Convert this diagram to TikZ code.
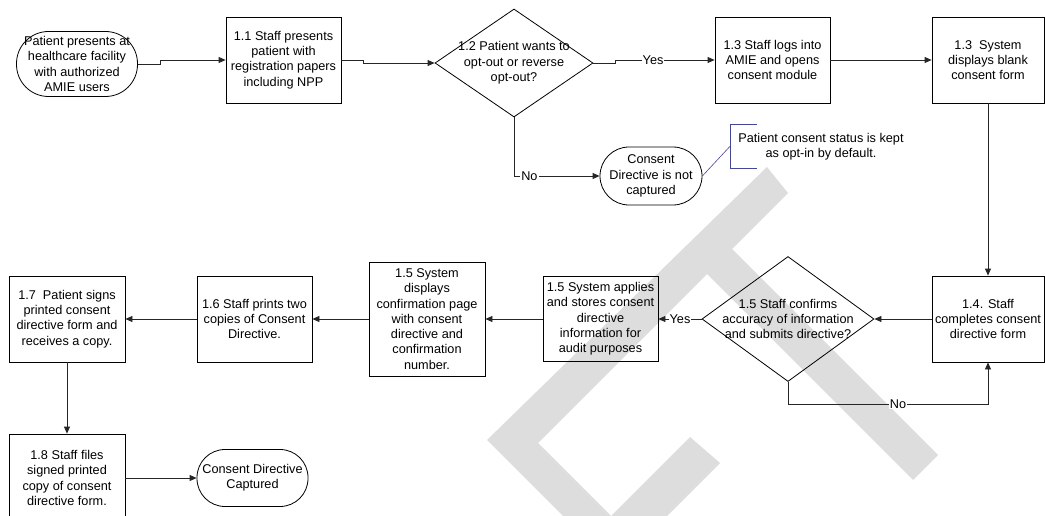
\documentclass[tikz,border=0pt]{standalone}
\usepackage{fontspec}
\setmainfont{Liberation Sans}
\usetikzlibrary{arrows.meta,shapes.geometric}
\definecolor{wmgray}{RGB}{221,221,221}
\definecolor{notecol}{RGB}{70,70,150}

\begin{document}
\begin{tikzpicture}[x=1pt,y=-1pt,
		font=\fontsize{12.7}{15.3}\selectfont,
		proc/.style={draw=black, line width=0.8pt, align=center, inner sep=0pt, minimum width=115pt, minimum height=86pt},
		term/.style={draw=black, line width=0.8pt, align=center, inner sep=0pt, rounded corners=#1},
		decide/.style={draw=black, line width=0.8pt, diamond, inner sep=0pt},
		conn/.style={line width=0.8pt, color=black!85, -{Triangle[length=7pt,width=6pt]}},
		lbl/.style={fill=white, inner sep=1pt, text=black},
		annot/.style={line width=0.6pt, color=notecol}]
		%%%%% START %%%%%
		
		\useasboundingbox (0,0) rectangle (1045,516);
		\clip (0,0) rectangle (1045,516);
		
		% watermark
		\fill[wmgray] (487,440) -- (767,167) -- (788,193) -- (732,249) -- (938,455) -- (913,480) -- (707,274) -- (538,443) -- (611,516) -- (690,437) -- (720,463) -- (615,568) -- cycle;
		
		% top row
		\node[term=32pt, minimum width=121pt, minimum height=65pt] (start) at (77,64) {Patient presents at\\healthcare facility\\with authorized\\AMIE users};
		\node[proc] (b11) at (283.5,60) {1.1 Staff presents\\patient with\\registration papers\\including NPP};
		\node[decide, minimum width=158pt, minimum height=108pt, label={[align=center]center:{1.2 Patient wants to\\opt-out or reverse\\opt-out?}}] (d12) at (514,63) {};
		\node[proc] (b13a) at (772.5,60) {1.3 Staff logs into\\AMIE and opens\\consent module};
		\node[proc, minimum width=112pt] (b13b) at (988,60) {1.3 \ System\\displays blank\\consent form};
		
		\node[term=29pt, minimum width=102pt, minimum height=58pt] (nocap) at (651,176) {Consent\\Directive is not\\captured};
		\node[align=center, inner sep=0pt, minimum width=182pt, minimum height=43pt] (note) at (821,146.5) {Patient consent status is kept\\as opt-in by default.};
		
		% middle row
		\node[proc, minimum width=112pt] (b14) at (988,319) {1.4. Staff\\completes consent\\directive form};
		\node[decide, minimum width=172pt, minimum height=125pt, label={[align=center]center:{1.5 Staff confirms\\accuracy of information\\and submits directive?}}] (d15) at (788,319) {};
		\node[proc, minimum height=85pt] (b15a) at (600.5,319) {1.5 System applies\\and stores consent\\directive\\information for\\audit purposes};
		\node[proc, minimum width=116pt, minimum height=114pt] (b15b) at (427,319) {1.5 System\\displays\\confirmation page\\with consent\\directive and\\confirmation\\number.};
		\node[proc] (b16) at (254.5,319) {1.6 Staff prints two\\copies of Consent\\Directive.};
		\node[proc, minimum width=116pt] (b17) at (67,319) {1.7 \ Patient signs\\printed consent\\directive form and\\receives a copy.};
		
		% bottom row
		\node[proc, minimum width=116pt, minimum height=88pt] (b18) at (67,478) {1.8 Staff files\\signed printed\\copy of consent\\directive form.};
		\node[term=28pt, minimum width=111pt, minimum height=57pt] (stop) at (252.5,478) {Consent Directive\\Captured};
		
		% connectors
		\draw[conn] (start.east) -- ++(22,0) |- (b11.west);
		\draw[conn] (b11.east) -- ++(22,0) |- (d12.west);
		\draw[conn] (d12.east) -- ++(22,0) |- node[lbl, pos=0.69] {Yes} (b13a.west);
		\draw[conn] (b13a.east) -- (b13b.west);
		\draw[conn] (b13b.south) -- (b14.north);
		\draw[conn] (d12.south) |- node[lbl, pos=0.59] {No} (nocap.west);
		\draw[conn] (b14.west) -- (d15.east);
		\draw[conn] (d15.west) -- node[lbl] {Yes} (b15a.east);
		\draw[conn] (d15.south) -- ++(0,22) -| node[lbl, pos=0.275] {No} (b14.south);
		\draw[conn] (b15a.west) -- (b15b.east);
		\draw[conn] (b15b.west) -- (b16.east);
		\draw[conn] (b16.west) -- (b17.east);
		\draw[conn] (b17.south) -- (b18.north);
		\draw[conn] (b18.east) -- (stop.west);
		
		% note bracket
		\draw[annot] ([xshift=27pt]note.north west) -- (note.north west) -- (note.south west) -- ([xshift=27pt]note.south west);
		\draw[annot] (nocap.east) -- (note.west);
		
		%%%%% END %%%%%
	\end{tikzpicture}
\end{document}
